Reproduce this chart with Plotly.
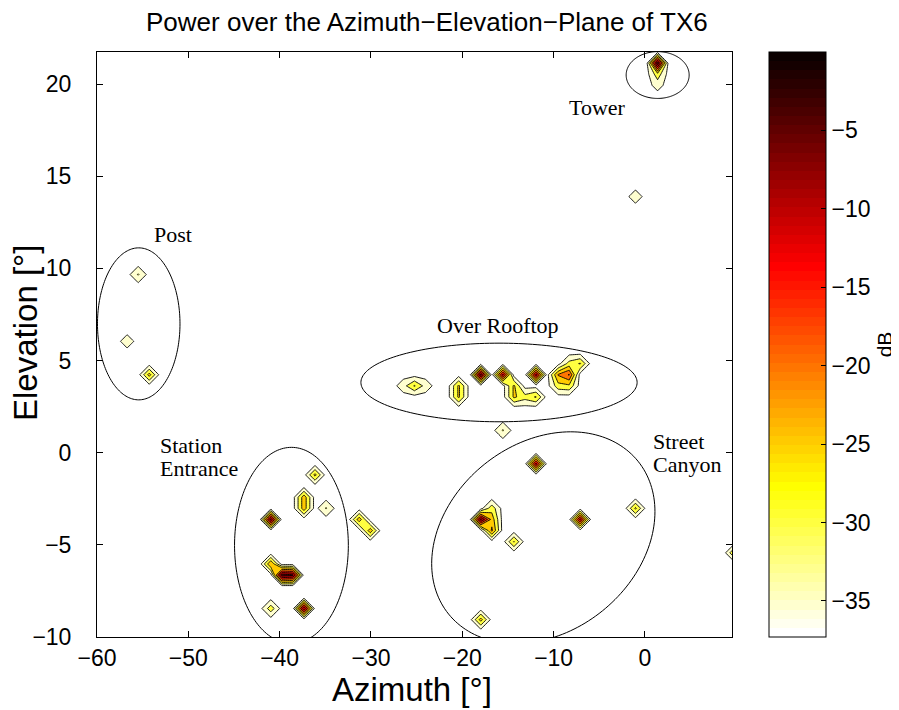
import numpy as np
import plotly.graph_objects as go

# ---------------- data ----------------
# sampling grid of the power map
AZ_ORIGIN = -17.98      # deg, a grid node
AZ_STEP = 1.21          # deg
EL_ORIGIN = 4.23        # deg, a grid node
EL_STEP = 0.604         # deg
AZ_NODE_RANGE = (-36, 24)
EL_NODE_RANGE = (-24, 30)
FLOOR_DB = -37.0        # dynamic range floor

# non-floor samples of the map: azimuth [deg], elevation [deg], power [dB]
PEAK_AZ = [
    1.38, 1.38, 1.38,                     # tower
    -1.04,                                # isolated
    -55.49, -56.70, -54.28,               # post
    -26.45, -25.24, -24.03, -20.40, -20.40, -17.98, -15.56, -14.35, -14.35,
    -13.14, -11.93, -11.93, -9.51, -8.30, -8.30, -7.09, -9.51, -8.30,   # over rooftop
    -15.56,                               # below rooftop
    -11.93, -7.09, -1.04, -14.35, -17.98, -17.98, -16.77, -16.77, -16.77,  # street canyon
    -40.97, -36.13, -37.34, -37.34, -34.92, -31.29, -30.08, -40.97, -39.76,
    -38.55, -40.97, -37.34,               # station entrance
    9.85,                                 # right edge
]
PEAK_EL = [
    21.14, 20.54, 19.93,
    13.89,
    9.67, 6.04, 4.23,
    3.63, 3.63, 3.63, 3.63, 3.02, 4.23, 4.23, 3.63, 3.02,
    3.02, 3.02, 4.23, 4.23, 4.23, 4.83, 4.83, 3.63, 3.63,
    1.21,
    -0.60, -3.62, -3.02, -4.83, -9.06, -3.62, -3.62, -4.23, -3.02,
    -3.62, -1.21, -2.41, -3.02, -3.02, -3.62, -4.23, -6.04, -6.64,
    -6.64, -8.45, -8.45,
    -5.43,
]
PEAK_DB = [
    -1.0, -27.0, -33.0,
    -32.0,
    -29.5, -32.0, -23.0,
    -32.0, -24.5, -32.0, -24.0, -24.0, -3.0, -8.0, -24.0, -24.0,
    -28.0, -24.5, -7.0, -19.5, -14.5, -28.0, -24.5, -27.0, -26.0,
    -29.5,
    -8.0, -8.0, -24.0, -24.5, -23.0, -4.0, -22.0, -19.0, -27.0,
    -4.0, -23.5, -22.0, -22.0, -29.5, -22.0, -22.0, -20.0, -2.0,
    -4.0, -27.0, -5.0,
    -24.0,
]

LEVEL_START, LEVEL_END, LEVEL_STEP = -35.0, 0.0, 5.0
CMIN, CMAX = -37.3, 0.0
COLORBAR_TICKS = [-35, -30, -25, -20, -15, -10, -5]
X_TICKS = [-60, -50, -40, -30, -20, -10, 0]
Y_TICKS = [-10, -5, 0, 5, 10, 15, 20]

# region labels
LABEL_TEXT = ["Post", "Tower", "Over Rooftop", "Station", "Entrance", "Street", "Canyon"]
LABEL_AZ = [-51.65, -5.16, -16.06, -53.33, -53.33, 0.69, 0.69]
LABEL_EL = [11.82, 18.71, 6.92, 0.38, -0.87, 0.60, -0.66]
LABEL_ANCHOR = ["center", "center", "center", "left", "left", "left", "left"]

# region ellipses: centre az, centre el, semi-axes (px), tilt (deg, ccw)
ELL_AZ = [1.39, -55.43, -15.98, -38.71, -11.13]
ELL_EL = [20.49, 6.99, 3.81, -5.03, -4.61]
ELL_A = [31.5, 41.25, 138.1, 56.9, 121.7]
ELL_B = [23.4, 76.0, 39.3, 98.05, 94.1]
ELL_TILT = [0, 0, 0, 0, 38.9]

# ---------------- layout geometry (window pixels) ----------------
WIN_W, WIN_H = 899, 710
PAGE_OFF = 8                      # default page margin of the html body
FIG_W, FIG_H = WIN_W - PAGE_OFF, WIN_H - PAGE_OFF
PL, PR, PT, PB = 97, 732, 52, 637   # plot area in window pixels
ML = PL - PAGE_OFF
MT = PT - PAGE_OFF
MR = FIG_W - (PR - PAGE_OFF)
MB = FIG_H - (PB - PAGE_OFF)
X_RANGE = [-60, 9.53]
Y_RANGE = [-10, 21.74]
PW, PH = PR - PL, PB - PT
PX_PER_AZ = PW / (X_RANGE[1] - X_RANGE[0])
PX_PER_EL = PH / (Y_RANGE[1] - Y_RANGE[0])

def paper_x(px):
    return (px - PL) / PW

def paper_y(py):
    return (PB - py) / PH

# ---------------- build the grid ----------------
az_nodes = AZ_ORIGIN + AZ_STEP * np.arange(*AZ_NODE_RANGE)
el_nodes = EL_ORIGIN + EL_STEP * np.arange(*EL_NODE_RANGE)
Z = np.full((len(el_nodes), len(az_nodes)), FLOOR_DB)
for a, e, v in zip(PEAK_AZ, PEAK_EL, PEAK_DB):
    i = int(np.argmin(np.abs(el_nodes - e)))
    j = int(np.argmin(np.abs(az_nodes - a)))
    Z[i, j] = v

# ---------------- colours: flipped MATLAB hot(64) ----------------
def hot_cmap(m=64):
    n = int(np.fix(3 / 8 * m))
    r = np.concatenate([np.arange(1, n + 1) / n, np.ones(m - n)])
    g = np.concatenate([np.zeros(n), np.arange(1, n + 1) / n, np.ones(m - 2 * n)])
    b = np.concatenate([np.zeros(2 * n), np.arange(1, m - 2 * n + 1) / (m - 2 * n)])
    return np.stack([r, g, b], 1)

CMAP = hot_cmap()[::-1]

def rgb(c):
    return "rgb(%d,%d,%d)" % tuple(int(round(x * 255)) for x in c)

def color_of(v):
    i = int(np.floor((v - CMIN) / (CMAX - CMIN) * 64))
    return rgb(CMAP[min(max(i, 0), 63)])

levels = np.arange(LEVEL_START, LEVEL_END + LEVEL_STEP / 2, LEVEL_STEP)
nc = len(levels)
contour_scale = [[0.0, color_of(FLOOR_DB)]]
for k, L in enumerate(levels):
    contour_scale.append([(k + 1) / nc, color_of(L)])

bar_scale = []
for i in range(64):
    c = rgb(CMAP[i])
    bar_scale.append([i / 64, c])
    bar_scale.append([(i + 1) / 64, c])

fig = go.Figure()
fig.add_trace(go.Contour(
    x=az_nodes, y=el_nodes, z=Z,
    autocontour=False,
    contours=dict(start=LEVEL_START, end=LEVEL_END, size=LEVEL_STEP,
                  coloring="fill", showlines=True),
    line=dict(color="black", width=0.9, smoothing=0),
    colorscale=contour_scale, showscale=False, hoverinfo="skip",
))

SANS = "Liberation Sans, Arial, sans-serif"

# colour bar (continuous 64-step map)
fig.add_trace(go.Scatter(
    x=[-100], y=[-100], mode="markers", showlegend=False, hoverinfo="skip",
    marker=dict(color=[CMIN], cmin=CMIN, cmax=CMAX, colorscale=bar_scale,
                showscale=True, opacity=0,
                colorbar=dict(
                    x=paper_x(769), xanchor="left", xpad=0, ypad=0,
                    y=0.5, yanchor="middle", len=1, lenmode="fraction",
                    thickness=57, thicknessmode="pixels",
                    outlinecolor="black", outlinewidth=1,
                    tickvals=COLORBAR_TICKS, ticks="inside", ticklen=5,
                    tickcolor="black",
                    tickfont=dict(family=SANS, size=23, color="black"),
                    title=dict(text="dB", side="right",
                               font=dict(family=SANS, size=21, color="black")),
                )),
))

# ellipses
shapes = []
t = np.linspace(0, 2 * np.pi, 181)
for cx, cy, a, b, th in zip(ELL_AZ, ELL_EL, ELL_A, ELL_B, ELL_TILT):
    th = np.deg2rad(th)
    dx = a * np.cos(t) * np.cos(th) - b * np.sin(t) * np.sin(th)
    dy = a * np.cos(t) * np.sin(th) + b * np.sin(t) * np.cos(th)
    xs = cx + dx / PX_PER_AZ
    ys = cy + dy / PX_PER_EL
    path = "M " + " L ".join("%.4f,%.4f" % (x, y) for x, y in zip(xs, ys)) + " Z"
    shapes.append(dict(type="path", xref="x", yref="y", path=path,
                       line=dict(color="black", width=1), layer="above"))

annotations = []
for txt, ax_, el_, anc in zip(LABEL_TEXT, LABEL_AZ, LABEL_EL, LABEL_ANCHOR):
    annotations.append(dict(x=ax_, y=el_, xref="x", yref="y", text=txt,
                            showarrow=False, xanchor=anc, yanchor="middle",
                            font=dict(family="Liberation Serif, Times New Roman, serif",
                                      size=22, color="black")))

annotations.append(dict(text="Power over the Azimuth\u2212Elevation\u2212Plane of TX6",
                        xref="paper", yref="paper", x=paper_x(426.5),
                        y=paper_y(22), showarrow=False,
                        xanchor="center", yanchor="middle",
                        font=dict(family=SANS, size=26, color="black")))
annotations.append(dict(text="Azimuth [°]", xref="paper", yref="paper",
                        x=paper_x(412), y=paper_y(689), showarrow=False,
                        xanchor="center", yanchor="middle",
                        font=dict(family=SANS, size=33, color="black")))
annotations.append(dict(text="Elevation [°]", xref="paper", yref="paper",
                        x=paper_x(25), y=paper_y(333), showarrow=False,
                        xanchor="center", yanchor="middle", textangle=-90,
                        font=dict(family=SANS, size=33, color="black")))

axis_common = dict(showgrid=False, zeroline=False, showline=True, linecolor="black",
                   linewidth=1, mirror="allticks", ticks="inside", ticklen=6,
                   tickcolor="black",
                   tickfont=dict(family=SANS, size=23, color="black"))

fig.update_layout(
    width=FIG_W, height=FIG_H,
    margin=dict(l=ML, r=MR, t=MT, b=MB, autoexpand=False),
    paper_bgcolor="white", plot_bgcolor="white",
    xaxis=dict(range=X_RANGE, tickvals=X_TICKS, **axis_common),
    yaxis=dict(range=Y_RANGE, tickvals=Y_TICKS, ticklabelstandoff=20, **axis_common),
    shapes=shapes, annotations=annotations, showlegend=False,
)

fig.write_html("out.html")
